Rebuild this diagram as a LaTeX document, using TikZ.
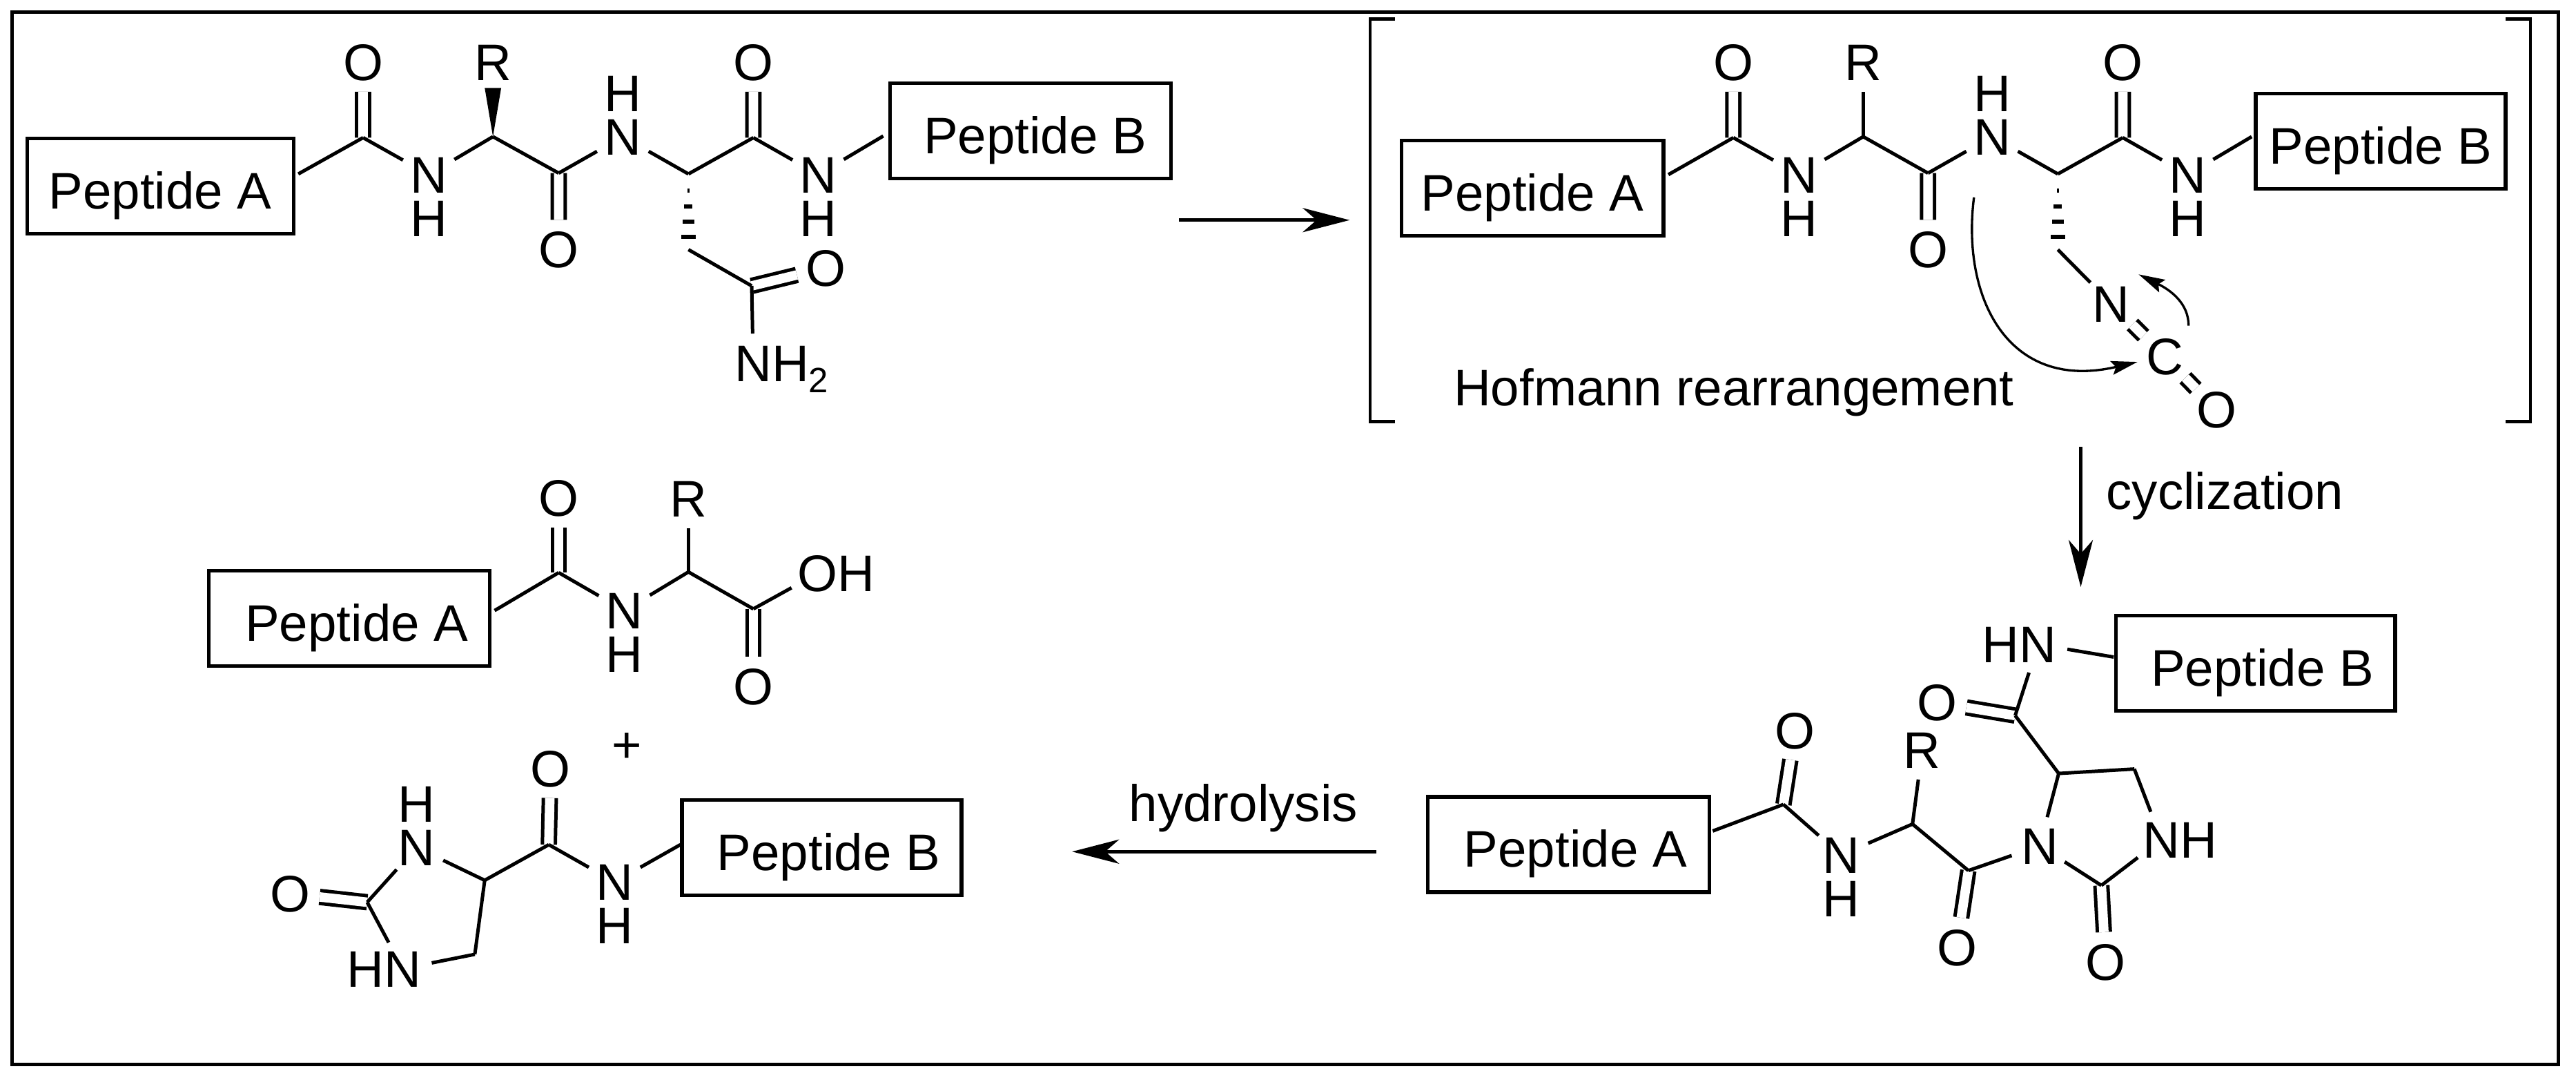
\documentclass[tikz,border=0pt]{standalone}
\usepackage{fontspec}
\setmainfont{Liberation Sans}
\usepackage{tikz}
\usetikzlibrary{arrows.meta}
\newcommand{\subtwo}{\raisebox{-.16cm}{\fontsize{14.5}{16}\selectfont 2}}

\begin{document}
\begin{tikzpicture}[x=0.023877cm, y=-0.023877cm, >={Stealth[length=.68cm, width=.35cm, inset=.2cm]}, node distance=.63cm, line width=1.42pt]
	\tikzstyle{every node}=[font=\fontsize{21.2}{24}\selectfont]
	\tikzstyle{atom}=[circle, inner sep=0pt, outer sep=0pt, minimum size=.86cm, text height=.53cm, text depth=0pt]
	\tikzstyle{pep}=[draw, line width=1.5pt, inner sep=0pt, outer sep=0pt, minimum height=1.38cm, text height=.66cm, text depth=0pt]
	\tikzstyle{lab}=[inner sep=0pt, anchor=base west]
	\tikzstyle{dbl}=[double, double distance=3.9pt, line width=1.42pt]
	\tikzstyle{curly}=[line width=.95pt, -{Stealth[length=.38cm, width=.2cm, inset=.06cm]}]
	\tikzstyle{brk}=[line width=1.3pt]

	\useasboundingbox (0,0) rectangle (1563,655);
	\draw (7.5,7.3) rectangle (1552.5,645.4);

	\node[pep, minimum width=3.86cm] (a1) at (97.25,112.75) {Peptide A};
	\coordinate (e1) at (181,105.5);
	\coordinate (c11) at (220.3,83.5);
	\node[atom] (o11) at (220.3,37.6) {O};
	\node[atom] (n11) at (260.2,105.9) {N};
	\node[atom] (h11) [below of=n11] {H};
	\coordinate (ca1) at (299.1,82.9);
	\node[atom] (r1) at (299.1,37.6) {R};
	\coordinate (c12) at (339,105);
	\node[atom] (o12) at (339,151.4) {O};
	\node[atom] (n12) at (377.9,82.9) {N};
	\node[atom] (h12) [above of=n12] {H};
	\coordinate (cb1) at (417.7,105.5);
	\coordinate (ce1) at (417.7,151.4);
	\coordinate (c13) at (457.1,83.5);
	\node[atom] (o13) at (457.1,37.6) {O};
	\node[atom] (n13) at (496.5,105.9) {N};
	\node[atom] (h13) [below of=n13] {H};
	\coordinate (e2) at (535.9,82.5);
	\node[pep, minimum width=4.07cm] (b1) at (625.15,79.4) {\hspace*{.14cm}Peptide B};
	\coordinate (c14) at (456.1,173.4);
	\node[atom] (o14) at (501,162.5) {O};
	\node[atom] (n14) at (457,220.3) {N\rlap{H\subtwo}};

	\draw[dbl] (c11) -- (o11) (c12) -- (o12) (c13) -- (o13) (c14) -- (o14);
	\path (e1) edge (c11) (c11) edge (n11) (n11) edge (ca1) (ca1) edge (c12) (c12) edge (n12);
	\path (n12) edge (cb1) (cb1) edge (c13) (c13) edge (n13) (n13) edge (e2);
	\path (ce1) edge (c14) (c14) edge (n14);
	\fill (ca1) -- ++(-5,-29.6) -- ++(10,0) -- cycle;

	\coordinate (r3) at (715.4,133.5);
	\coordinate (r4) at (818.9,133.5);
	\path[->] (r3) edge (r4);

	\draw[brk] (846.3,11.5) -| (831.3,255.8) -- (846.3,255.8);
	\draw[brk] (1520.3,11.5) -| (1535.3,255.8) -- (1520.3,255.8);

	\node[pep, minimum width=3.8cm] (a2) at (929.8,114.15) {Peptide A};
	\coordinate (e3) at (1012.3,105.9);
	\coordinate (c21) at (1051.7,83.5);
	\node[atom] (o21) at (1051.7,37.6) {O};
	\node[atom] (n21) at (1091.6,105.9) {N};
	\node[atom] (h21) [below of=n21] {H};
	\coordinate (ca2) at (1130.5,82.9);
	\node[atom] (r2) at (1130.5,37.6) {R};
	\coordinate (c22) at (1169.8,105);
	\node[atom] (o22) at (1169.8,151.4) {O};
	\node[atom] (n22) at (1208.7,82.9) {N};
	\node[atom] (h22) [above of=n22] {H};
	\coordinate (cb2) at (1248.6,105.5);
	\coordinate (ce2) at (1248.6,151.4);
	\coordinate (c23) at (1288,83.5);
	\node[atom] (o23) at (1288,37.6) {O};
	\node[atom] (n23) at (1327.4,105.9) {N};
	\node[atom] (h23) [below of=n23] {H};
	\coordinate (e4) at (1366.2,82.9);
	\node[pep, minimum width=3.62cm] (b2) at (1444.5,85.65) {Peptide B};
	\node[atom] (n24) at (1281,184.2) {N};
	\node[atom] (c24) at (1313.4,216.2) {C};
	\node[atom] (o24) at (1344.8,248.5) {O};

	\draw[dbl] (c21) -- (o21) (c22) -- (o22) (c23) -- (o23) (n24) -- (c24) (c24) -- (o24);
	\path (e3) edge (c21) (c21) edge (n21) (n21) edge (ca2) (ca2) edge (r2) (ca2) edge (c22);
	\path (c22) edge (n22) (n22) edge (cb2) (cb2) edge (c23) (c23) edge (n23) (n23) edge (e4);
	\path (ce2) edge (n24);

	\foreach \cb in {cb1,cb2}
		\foreach \y/\w in {8.7/1.5,18.4/5,27.7/7,37.1/9}
			\fill ([shift={(-\w/2,\y)}]\cb) rectangle ++(\w,2.5);

	\coordinate (s1) at (1197.7,119.7);
	\coordinate (t1) at (1296.9,219.5);
	\coordinate (s2) at (1327.9,197.5);
	\coordinate (t2) at (1297.6,166.4);
	\draw[curly] (s1) .. controls (1190,180) and (1218,238) .. (t1);
	\draw[curly] (s2) .. controls (1328,184) and (1317,176) .. (t2);
	\node[lab] (hof) at (881,246) {Hofmann rearrangement};

	\coordinate (r5) at (1262.5,271);
	\coordinate (r6) at (1262.5,356);
	\path[->] (r5) edge (r6);
	\node[lab] (cyc) at (1277,308.7) {cyclization};

	\node[pep, minimum width=4.05cm] (b4) at (1368.5,402.35) {\hspace*{.2cm}Peptide B};
	\node[atom] (n41) at (1236.6,390.8) {\llap{H}N};
	\coordinate (e5) at (1282.5,398.5);
	\coordinate (c41) at (1222.7,434);
	\node[atom] (o41) at (1175.3,426.1) {O};
	\coordinate (c42) at (1249.1,469.1);
	\coordinate (c43) at (1295,466.4);
	\node[atom] (n42) at (1311.4,509.2) {N\rlap{H}};
	\node[atom] (n43) at (1237.6,513) {N};
	\coordinate (c44) at (1275,537);
	\node[atom] (o44) at (1277.5,583.3) {O};
	\coordinate (c45) at (1194.3,528);
	\node[atom] (o45) at (1187.3,574.4) {O};
	\coordinate (ca4) at (1160.4,499.8);
	\node[atom] (r4n) at (1166.3,454.9) {R};
	\node[atom] (n44) at (1117,518.6) {N};
	\node[atom] (h44) [below of=n44] {H};
	\coordinate (c46) at (1082.1,487.9);
	\node[atom] (o46) at (1089.1,443) {O};
	\coordinate (e6) at (1039.2,504);
	\node[pep, minimum width=4.08cm] (a4) at (951.7,512.15) {\hspace*{.2cm}Peptide A};

	\draw[dbl] (c41) -- (o41) (c44) -- (o44) (c45) -- (o45) (c46) -- (o46);
	\path (n41) edge (e5) (n41) edge (c41) (c41) edge (c42) (c42) edge (c43) (c43) edge (n42);
	\path (n42) edge (c44) (c44) edge (n43) (n43) edge (c42) (n43) edge (c45) (c45) edge (ca4);
	\path (ca4) edge (r4n) (ca4) edge (n44) (n44) edge (c46) (c46) edge (e6);

	\coordinate (r7) at (834.9,516.5);
	\coordinate (r8) at (650.5,516.5);
	\path[->] (r7) edge (r8);
	\node[lab] (hyd) at (684,498.1) {hydrolysis};

	\node[pep, minimum width=4.07cm] (a3) at (211.85,375) {\hspace*{.22cm}Peptide A};
	\coordinate (e7) at (300.1,370.3);
	\coordinate (c31) at (339,347.3);
	\node[atom] (o31) at (339,301.8) {O};
	\node[atom] (n31) at (378.9,370.3) {N};
	\node[atom] (h31) [below of=n31] {H};
	\coordinate (ca3) at (417.7,346.9);
	\node[atom] (r3n) at (417.7,302.2) {R};
	\coordinate (c32) at (457.1,369.3);
	\node[atom] (o32) at (457.1,416.3) {O};
	\node[atom] (o33) at (496,347.8) {O\rlap{H}};

	\draw[dbl] (c31) -- (o31) (c32) -- (o32);
	\path (e7) edge (c31) (c31) edge (n31) (n31) edge (ca3) (ca3) edge (r3n) (ca3) edge (c32) (c32) edge (o33);

	\node (plus) at (380.4,453.4) {+};

	\node[atom] (o51) at (334,466) {O};
	\coordinate (c51) at (333,512.3);
	\node[atom] (n51) at (372.9,534.9) {N};
	\node[atom] (h51) [below of=n51] {H};
	\coordinate (e8) at (412.8,512.3);
	\node[pep, minimum width=4.05cm] (b3) at (498.55,514.2) {\hspace*{.2cm}Peptide B};
	\coordinate (c52) at (294.1,533.9);
	\node[atom] (n52) at (252.7,514) {N};
	\node[atom] (h52) [above of=n52] {H};
	\coordinate (c53) at (222.8,547.2);
	\node[atom] (o53) at (176,542) {O};
	\node[atom] (n53) at (244.3,587.5) {\llap{H}N};
	\coordinate (c54) at (288.1,578.8);

	\draw[dbl] (c51) -- (o51) (c53) -- (o53);
	\path (c51) edge (n51) (n51) edge (e8) (c51) edge (c52) (c52) edge (n52) (n52) edge (c53);
	\path (c53) edge (n53) (n53) edge (c54) (c54) edge (c52);
\end{tikzpicture}
\end{document}
